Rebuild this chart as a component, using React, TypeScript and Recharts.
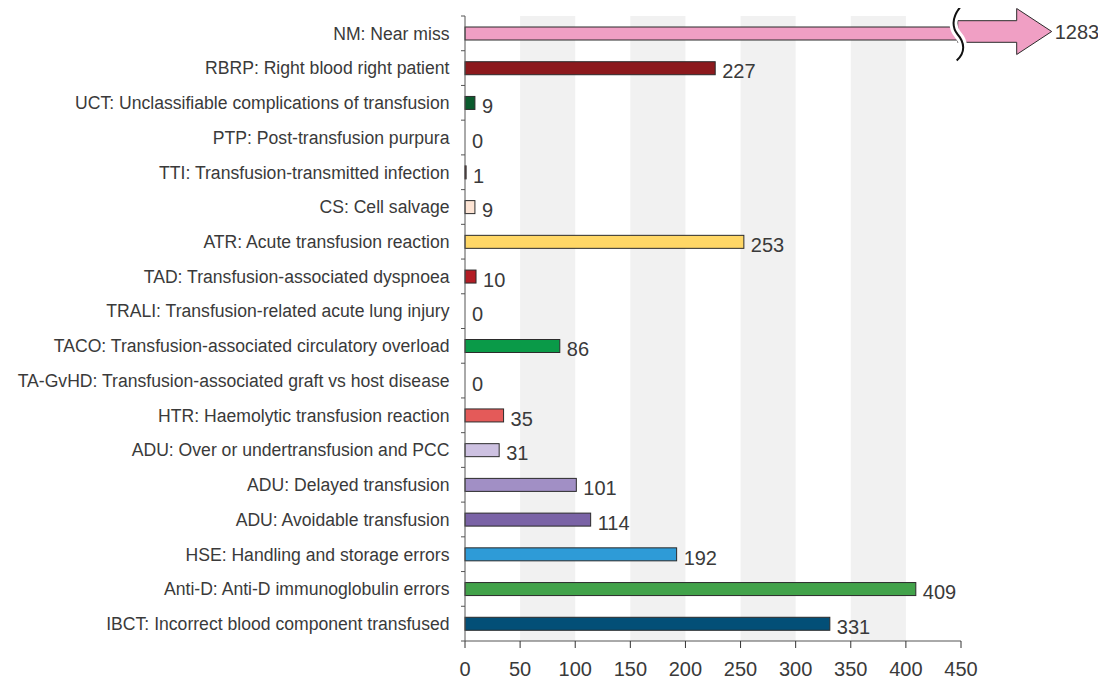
import React from "react"
import {
  BarChart,
  Bar,
  XAxis,
  YAxis,
  ReferenceArea,
  LabelList,
} from "recharts"

// categories from top to bottom
const categories = [
  "NM: Near miss",
  "RBRP: Right blood right patient",
  "UCT: Unclassifiable complications of transfusion",
  "PTP: Post-transfusion purpura",
  "TTI: Transfusion-transmitted infection",
  "CS: Cell salvage",
  "ATR: Acute transfusion reaction",
  "TAD: Transfusion-associated dyspnoea",
  "TRALI: Transfusion-related acute lung injury",
  "TACO: Transfusion-associated circulatory overload",
  "TA-GvHD: Transfusion-associated graft vs host disease",
  "HTR: Haemolytic transfusion reaction",
  "ADU: Over or undertransfusion and PCC",
  "ADU: Delayed transfusion",
  "ADU: Avoidable transfusion",
  "HSE: Handling and storage errors",
  "Anti-D: Anti-D immunoglobulin errors",
  "IBCT: Incorrect blood component transfused",
]

const values = [1283, 227, 9, 0, 1, 9, 253, 10, 0, 86, 0, 35, 31, 101, 114, 192, 409, 331]

const colors = [
  "#f09fc4",
  "#8c191d",
  "#0b5a2d",
  "#ffffff",
  "#6e1d1d",
  "#fde4d4",
  "#ffd766",
  "#b31d25",
  "#ffffff",
  "#0a9a48",
  "#ffffff",
  "#e45a59",
  "#cdc1e1",
  "#a18fc5",
  "#7a63a6",
  "#2e9bd7",
  "#42a24a",
  "#034f77",
]

const xTicks = [0, 50, 100, 150, 200, 250, 300, 350, 400, 450]
const shadedStarts = [50, 150, 250, 350]

// bars longer than this are drawn broken, with an arrow
const BREAK_AT = 447

const W = 1106
const H = 684
const PLOT_LEFT = 465
const PLOT_TOP = 16
const PLOT_BOTTOM = 641
const BAND = (PLOT_BOTTOM - PLOT_TOP) / categories.length

const FONT = "'Liberation Sans', Arial, Helvetica, sans-serif"
const TEXT = "#3a3a3a"
const OUTLINE = "#2b2b2b"

const rows = categories.map((name, i) => ({
  name,
  value: values[i],
  shown: Math.min(values[i], BREAK_AT),
  color: colors[i],
}))

function BarShape(props: any) {
  const { x, y, width, height, payload } = props
  if (!width || width <= 0) return null
  if (payload.value <= BREAK_AT) {
    return (
      <rect x={x} y={y} width={width} height={height} fill={payload.color} stroke={OUTLINE} strokeWidth={1} />
    )
  }
  const cy = y + height / 2
  const bx = x + width
  const ac = cy - 2
  const hx = bx + 59
  const tip = bx + 94
  const bh = 10.8
  const hh = 23
  const arrow = [
    [bx, ac - bh],
    [hx, ac - bh],
    [hx, ac - hh],
    [tip, ac],
    [hx, ac + hh],
    [hx, ac + bh],
    [bx, ac + bh],
  ]
    .map((p) => p.join(","))
    .join(" ")
  const squiggle = `M ${bx + 3} ${cy - 27} C ${bx - 7} ${cy - 15} ${bx - 5} ${cy - 5} ${bx} ${cy + 1} C ${bx + 7} ${cy + 9} ${bx + 8} ${cy + 19} ${bx - 1} ${cy + 27}`
  return (
    <g>
      <rect x={x} y={y} width={width} height={height} fill={payload.color} stroke={OUTLINE} strokeWidth={1} />
      <polygon points={arrow} fill={payload.color} stroke={OUTLINE} strokeWidth={1} />
      <path d={squiggle} fill="none" stroke="#ffffff" strokeWidth={8} />
      <path d={squiggle} fill="none" stroke="#111" strokeWidth={2} />
    </g>
  )
}

function ValueLabel(props: any) {
  const { x, y, width, height, value } = props
  const cy = y + height / 2
  const broken = value > BREAK_AT
  const lx = broken ? x + width + 97 : x + width + 7
  const ly = broken ? cy - 2 : cy + 3
  return (
    <text x={lx} y={ly} dy="0.36em" fontSize={20} fill={TEXT} fontFamily={FONT} textAnchor="start">
      {value}
    </text>
  )
}

function CategoryTick(props: any) {
  const { y, payload, index } = props
  return (
    <g>
      <line x1={PLOT_LEFT - 4} x2={PLOT_LEFT} y1={y - BAND / 2} y2={y - BAND / 2} stroke="#555" />
      {index === categories.length - 1 && (
        <line x1={PLOT_LEFT - 4} x2={PLOT_LEFT} y1={y + BAND / 2} y2={y + BAND / 2} stroke="#555" />
      )}
      <text
        x={PLOT_LEFT - 15.5}
        y={y}
        dy="0.36em"
        textAnchor="end"
        fontSize={17.6}
        fill={TEXT}
        fontFamily={FONT}
      >
        {payload.value}
      </text>
    </g>
  )
}

export default function App() {
  return (
    <div style={{ margin: "-8px", width: W, height: H, background: "#fff" }}>
      <BarChart
        width={W}
        height={H}
        data={rows}
        layout="vertical"
        margin={{ top: PLOT_TOP, right: W - 961, bottom: 0, left: 0 }}
        barCategoryGap={0}
      >
        {shadedStarts.map((s) => (
          <ReferenceArea key={s} x1={s} x2={s + 50} fill="#f1f1f1" fillOpacity={1} stroke="none" />
        ))}
        <XAxis
          type="number"
          domain={[0, 450]}
          ticks={xTicks}
          interval={0}
          height={H - PLOT_BOTTOM}
          axisLine={{ stroke: "#555" }}
          tickLine={{ stroke: "#333" }}
          tickSize={7}
          tickMargin={14}
          tick={{ fontSize: 20, fill: TEXT, fontFamily: FONT }}
        />
        <YAxis
          type="category"
          dataKey="name"
          width={PLOT_LEFT}
          interval={0}
          axisLine={{ stroke: "#555" }}
          tickLine={false}
          tick={<CategoryTick />}
        />
        <Bar dataKey="shown" barSize={13} shape={<BarShape />} isAnimationActive={false}>
          <LabelList dataKey="value" content={<ValueLabel />} />
        </Bar>
      </BarChart>
    </div>
  )
}
